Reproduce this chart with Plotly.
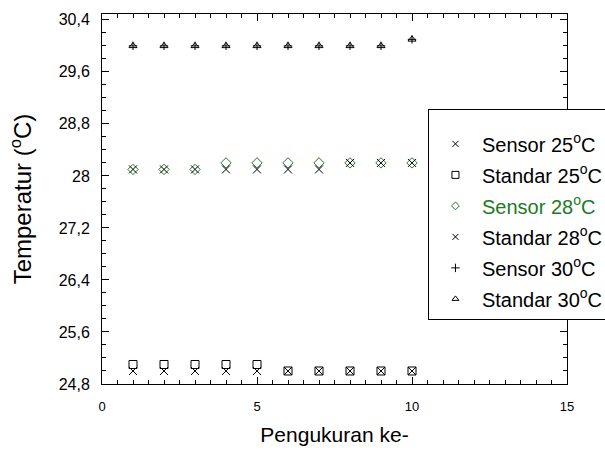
import plotly.graph_objects as go

x_vals = [1, 2, 3, 4, 5, 6, 7, 8, 9, 10]
sensor_25 = [25.0, 25.0, 25.0, 25.0, 25.0, 25.0, 25.0, 25.0, 25.0, 25.0]
standar_25 = [25.1, 25.1, 25.1, 25.1, 25.1, 25.0, 25.0, 25.0, 25.0, 25.0]
sensor_28 = [28.1, 28.1, 28.1, 28.2, 28.2, 28.2, 28.2, 28.2, 28.2, 28.2]
standar_28 = [28.1, 28.1, 28.1, 28.1, 28.1, 28.1, 28.1, 28.2, 28.2, 28.2]
sensor_30 = [30.0, 30.0, 30.0, 30.0, 30.0, 30.0, 30.0, 30.0, 30.0, 30.1]
standar_30 = [30.0, 30.0, 30.0, 30.0, 30.0, 30.0, 30.0, 30.0, 30.0, 30.1]

names = ["Sensor 25<sup>o</sup>C", "Standar 25<sup>o</sup>C",
         "<span style='color:#217a21'>Sensor 28<sup>o</sup>C</span>",
         "Standar 28<sup>o</sup>C", "Sensor 30<sup>o</sup>C", "Standar 30<sup>o</sup>C"]

GREEN = "#217a21"
FONT = "Liberation Sans, Arial, sans-serif"

series = [
    (sensor_25, "x-thin-open", 8, "black"),
    (standar_25, "square-open", 8, "black"),
    (sensor_28, "diamond-open", 8, GREEN),
    (standar_28, "x-thin-open", 8, "black"),
    (sensor_30, "cross-thin-open", 6, "black"),
    (standar_30, "triangle-up-open", 7, "black"),
]
legend_sizes = [6, 7, 6, 6, 6, 6]

fig = go.Figure()
for i, (ys, sym, sz, col) in enumerate(series):
    fig.add_trace(go.Scatter(
        x=x_vals, y=ys, mode="markers", showlegend=False,
        marker=dict(symbol=sym, size=sz, color=col, line=dict(width=1, color=col)),
    ))
for i, (ys, sym, sz, col) in enumerate(series):
    fig.add_trace(go.Scatter(
        x=[None], y=[None], mode="markers", name=names[i], legendgroup=f"g{i}",
        marker=dict(symbol=sym, size=legend_sizes[i], color=col, line=dict(width=1, color=col)),
    ))

axis_common = dict(
    showline=True, linecolor="black", linewidth=1, mirror="allticks",
    ticks="inside", ticklen=7, tickcolor="black", showgrid=False, zeroline=False,
)

fig.update_layout(
    width=605, height=451,
    margin=dict(l=102, r=38, t=14, b=67, autoexpand=False),
    paper_bgcolor="white", plot_bgcolor="white",
    separators=", ",
    font=dict(family=FONT, color="black"),
    xaxis=dict(range=[0, 15], tickmode="linear", tick0=0, dtick=5,
               minor=dict(ticks="inside", ticklen=4, dtick=0.5, tickcolor="black"),
               tickfont=dict(size=13), ticklabelstandoff=10,
               title=dict(text="Pengukuran ke-", font=dict(size=21), standoff=14),
               **axis_common),
    yaxis=dict(range=[24.8, 30.49], tickmode="linear", tick0=24.8, dtick=0.8,
               minor=dict(ticks="inside", ticklen=4, dtick=0.2, tickcolor="black"),
               tickfont=dict(size=16), ticklabelstandoff=8,
               title=dict(text="Temperatur (<sup>o</sup>C)", font=dict(size=24), standoff=20),
               **axis_common),
    legend=dict(x=0.701, y=0.743, xanchor="left", yanchor="top",
                bgcolor="white", bordercolor="black", borderwidth=1,
                font=dict(family=FONT, size=20, color="black"),
                title=dict(text="&#160;", font=dict(size=11)),
                tracegroupgap=2, itemwidth=43),
)

fig.write_html("out.html")
